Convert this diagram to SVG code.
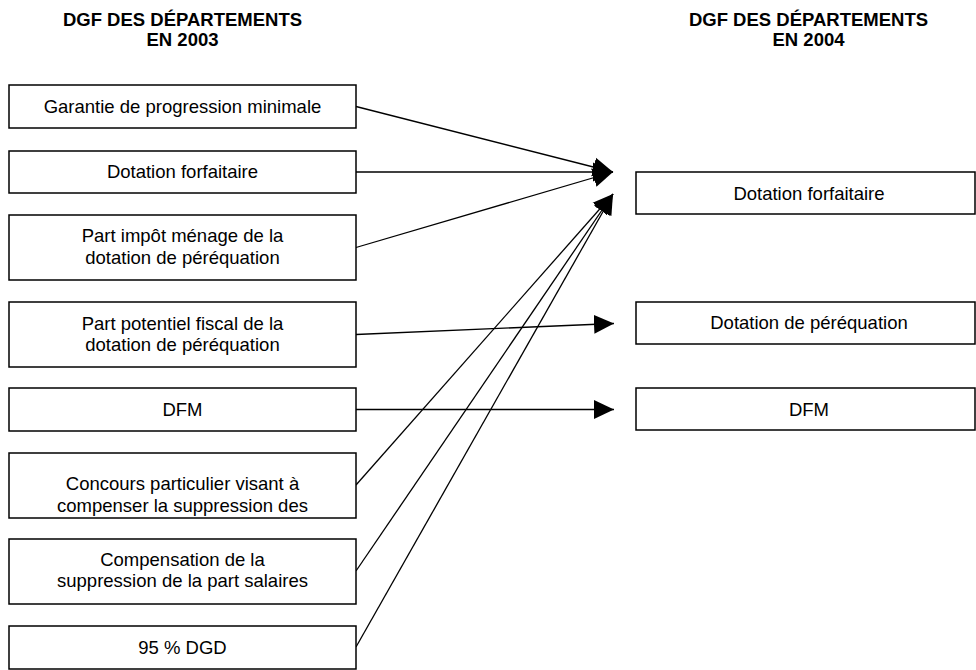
<svg xmlns="http://www.w3.org/2000/svg" width="976" height="670" viewBox="0 0 976 670">
<style>
.box{fill:#fff;stroke:#000;stroke-width:1.5}
.t{font-family:"Liberation Sans",Arial,sans-serif;font-size:18.5px;fill:#000;text-anchor:middle}
.h{font-family:"Liberation Sans",Arial,sans-serif;font-size:18.5px;font-weight:bold;fill:#000;text-anchor:middle}
.c{stroke:#000;stroke-width:1.3;fill:none;marker-end:url(#ah)}
</style>
<defs>
<marker id="ah" markerUnits="userSpaceOnUse" viewBox="0 0 20 20" refX="20" refY="10" markerWidth="20" markerHeight="20" orient="auto">
<path d="M0,0.5 L20,10 L0,19.5 z" fill="#000"/>
</marker>
</defs>
<rect width="976" height="670" fill="#fff"/>
<g id="header-2003">
<text class="h" x="182.5" y="26">DGF DES DÉPARTEMENTS</text>
<text class="h" x="182.5" y="46">EN 2003</text>
</g>
<g id="header-2004">
<text class="h" x="808.5" y="26">DGF DES DÉPARTEMENTS</text>
<text class="h" x="808.5" y="46">EN 2004</text>
</g>
<g id="connectors">
<line class="c" x1="356" y1="106.5" x2="613" y2="172"/>
<line class="c" x1="356" y1="172" x2="613" y2="172"/>
<line class="c" x1="356" y1="247.5" x2="613" y2="172"/>
<line class="c" x1="356" y1="334.5" x2="614" y2="323.5"/>
<line class="c" x1="356" y1="409.5" x2="614" y2="409.5"/>
<line class="c" x1="356" y1="485" x2="613" y2="194"/>
<line class="c" x1="356" y1="571" x2="613" y2="194"/>
<line class="c" x1="356" y1="647" x2="613" y2="194"/>
</g>
<g id="n-garantie">
<rect class="box" x="9" y="85" width="347" height="43"/>
<text class="t" x="182.5" y="112.5">Garantie de progression minimale</text>
</g>
<g id="n-dotation-forfaitaire-2003">
<rect class="box" x="9" y="151" width="347" height="42"/>
<text class="t" x="182.5" y="177.5">Dotation forfaitaire</text>
</g>
<g id="n-part-impot">
<rect class="box" x="9" y="215" width="347" height="65"/>
<text class="t" x="182.5" y="242">Part impôt ménage de la</text>
<text class="t" x="182.5" y="263.5">dotation de péréquation</text>
</g>
<g id="n-part-potentiel">
<rect class="box" x="9" y="302" width="347" height="65"/>
<text class="t" x="182.5" y="329.5">Part potentiel fiscal de la</text>
<text class="t" x="182.5" y="351">dotation de péréquation</text>
</g>
<g id="n-dfm-2003">
<rect class="box" x="9" y="388" width="347" height="43"/>
<text class="t" x="182.5" y="415.5">DFM</text>
</g>
<g id="n-concours">
<rect class="box" x="9" y="453" width="347" height="65"/>
<text class="t" x="182.5" y="490">Concours particulier visant à</text>
<text class="t" x="182.5" y="511.5">compenser la suppression des</text>
</g>
<g id="n-compensation">
<rect class="box" x="9" y="539" width="347" height="65"/>
<text class="t" x="182.5" y="565.5">Compensation de la</text>
<text class="t" x="182.5" y="587">suppression de la part salaires</text>
</g>
<g id="n-dgd">
<rect class="box" x="9" y="626" width="347" height="43"/>
<text class="t" x="182.5" y="653.5">95 % DGD</text>
</g>
<g id="n-dotation-forfaitaire-2004">
<rect class="box" x="636" y="172" width="339" height="42"/>
<text class="t" x="809" y="199.5">Dotation forfaitaire</text>
</g>
<g id="n-dotation-perequation-2004">
<rect class="box" x="636" y="302" width="339" height="42"/>
<text class="t" x="809" y="328.5">Dotation de péréquation</text>
</g>
<g id="n-dfm-2004">
<rect class="box" x="636" y="388" width="339" height="42"/>
<text class="t" x="809" y="415.5">DFM</text>
</g>
</svg>
